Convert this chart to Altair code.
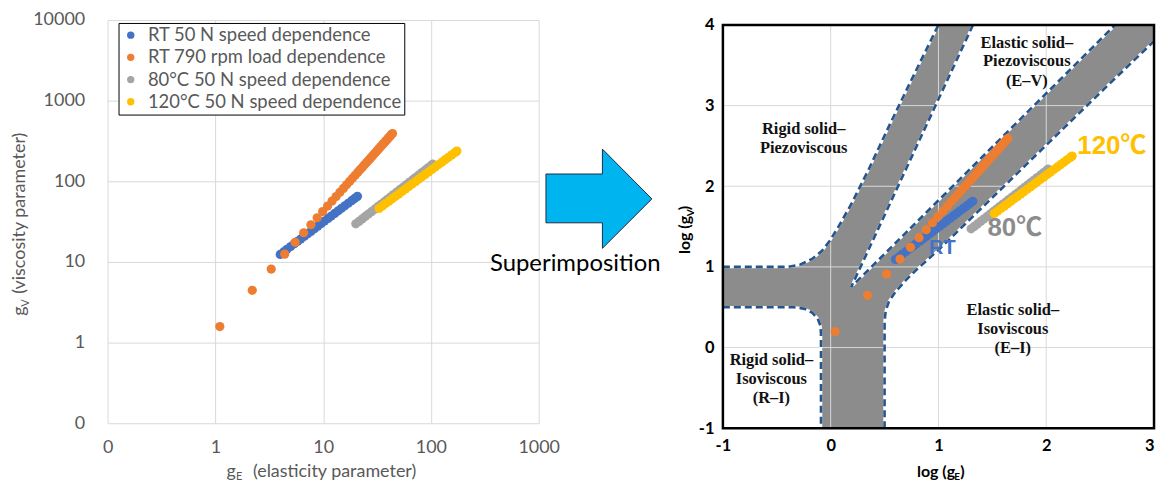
import altair as alt
import pandas as pd

# ---------------- data ----------------
SERIES = ["RT 50 N speed dependence", "RT 790 rpm load dependence",
          "80°C 50 N speed dependence", "120°C 50 N speed dependence"]
COLORS = ["#4472C4", "#ED7D31", "#A5A5A5", "#FFC000"]

rt50_gE = [4.0, 4.3, 4.6, 5.0, 5.4, 5.8, 6.2, 6.7, 7.2, 7.7, 8.3, 8.9, 9.6, 10.3,
           11.1, 11.9, 12.8, 13.8, 14.8, 15.9, 17.1, 18.4, 19.6, 20.8]
rt50_gV = [12.4, 13.3, 14.3, 15.5, 16.8, 18.0, 19.3, 20.8, 22.4, 23.9, 25.8, 27.7, 29.9, 32.1,
           34.6, 37.1, 39.9, 43.0, 46.2, 49.6, 53.4, 57.4, 61.2, 65.0]

rt790_gE = [1.1, 2.2, 3.3, 4.4, 5.5, 6.6, 7.7, 8.8, 9.9, 11.0, 12.1, 13.2, 14.3, 15.4,
            16.5, 17.6, 18.7, 19.8, 20.9, 22.0, 23.1, 24.2, 25.3, 26.4, 27.5, 28.6, 29.7,
            30.8, 31.9, 33.0, 34.1, 35.2, 36.3, 37.4, 38.5, 39.6, 40.7, 41.8, 42.9, 44.0]
rt790_gV = [1.58, 4.45, 8.16, 12.5, 17.5, 23.0, 28.9, 35.3, 42.1, 49.3, 56.8, 64.7, 72.9, 81.5,
            90.3, 99.4, 108.9, 118.6, 128.6, 138.8, 149.3, 160.0, 171.0, 182.3, 193.7, 205.4,
            217.3, 229.4, 241.8, 254.4, 267.2, 280.2, 293.4, 306.7, 320.3, 334.0, 348.0,
            362.1, 376.5, 391.1]

c80_gE = [20.1, 21.5, 23.0, 24.6, 26.3, 28.1, 30.1, 32.2, 34.4, 36.8, 39.4, 42.1, 45.0,
          48.2, 51.5, 55.1, 58.9, 63.0, 67.4, 72.1, 77.1, 82.5, 88.2, 94.3, 100.9, 104.0]
c80_gV = [29.7, 31.8, 34.1, 36.6, 39.2, 42.0, 45.1, 48.4, 51.8, 55.5, 59.6, 63.8, 68.4,
          73.4, 78.6, 84.3, 90.4, 96.9, 103.9, 111.4, 119.4, 128.1, 137.3, 147.1, 157.8, 162.8]

c120_gE = [33.0, 35.4, 38.0, 40.8, 43.8, 47.0, 50.4, 54.1, 58.1, 62.3, 66.9, 71.8, 77.0,
           82.7, 88.7, 95.2, 102.2, 109.7, 117.7, 126.3, 135.6, 145.5, 156.1, 167.6, 174.0]
c120_gV = [46.0, 49.3, 52.9, 56.7, 60.8, 65.2, 69.8, 74.9, 80.3, 86.0, 92.3, 98.9, 106.0,
           113.7, 121.8, 130.6, 140.1, 150.2, 161.0, 172.6, 185.1, 198.4, 212.6, 228.0, 236.6]

LEFT_X_TICKS = [0.1, 1, 10, 100, 1000]
LEFT_Y_TICKS = [0.1, 1, 10, 100, 1000, 10000]
RIGHT_X_TICKS = [-1, 0, 1, 2, 3]
RIGHT_Y_TICKS = [-1, 0, 1, 2, 3, 4]
RIGHT_GRID_X = [0, 1, 2]
RIGHT_GRID_Y = [0, 1, 2, 3]

# regime-map boundaries in (log gE, log gV)
upper_left_x = [-1.0, -0.4, -0.28, -0.17, -0.08, -0.01, 0.06, 0.2, 0.36, 0.55, 0.75, 1.0]
upper_left_y = [1.0, 1.0, 1.03, 1.1, 1.2, 1.32, 1.47, 1.8, 2.23, 2.77, 3.32, 4.0]
wedge_x = [1.32, 0.19, 2.64]
wedge_y = [4.0, 0.75, 4.0]
lower_left_x = [-1.0, -0.34, -0.24, -0.17, -0.12, -0.095, -0.09, -0.09]
lower_left_y = [0.5, 0.5, 0.48, 0.43, 0.36, 0.27, 0.17, -1.0]
lower_right_x = [0.5, 0.5, 0.51, 0.54, 0.6, 0.7, 0.8, 1.0, 1.5, 2.0, 2.5, 3.0]
lower_right_y = [-1.0, 0.32, 0.45, 0.57, 0.69, 0.84, 0.97, 1.21, 1.86, 2.51, 3.16, 3.8]
corner_x = [3.0]
corner_y = [4.0]

REGION_TEXT = ["Rigid solid–", "Piezoviscous", "Elastic solid–", "Piezoviscous", "(E–V)",
               "Elastic solid–", "Isoviscous", "(E–I)", "Rigid solid–", "Isoviscous", "(R–I)"]
REGION_X = [-0.25, -0.25, 1.82, 1.82, 1.82, 1.69, 1.69, 1.69, -0.55, -0.55, -0.55]
REGION_Y = [2.71, 2.48, 3.77, 3.55, 3.30, 0.46, 0.23, -0.01, -0.16, -0.395, -0.63]

CURVE_TEXT = ["RT", "80℃", "120℃"]
CURVE_X = [1.036, 1.708, 2.608]
CURVE_Y = [1.235, 1.477, 2.494]
CURVE_COL = ["#4472C4", "#8C8C8C", "#FFC000"]
CURVE_SIZE = [20, 26, 26]

# arrow shape in the middle panel (panel units, y downward)
arrow_x = [7.3, 64, 64, 113.7, 64, 64, 7.3, 7.3]
arrow_y = [154.7, 154.7, 129.7, 179.7, 229.3, 203.7, 203.7, 154.7]

# ---------------- tables ----------------
rows = []
for k, (name, xs, ys) in enumerate(zip(SERIES,
                                       [rt50_gE, rt790_gE, c80_gE, c120_gE],
                                       [rt50_gV, rt790_gV, c80_gV, c120_gV])):
    for i, (a, b) in enumerate(zip(xs, ys)):
        rows.append({"series": name, "gE": a, "gV": b, "ord": k * 1000 + i})
df = pd.DataFrame(rows)
ONE = pd.DataFrame({"k": [0]})

GRID = "#d9d9d9"
LBL = "#595959"
LW, LH = 433, 405
RW, RH = 433, 405
MW = 185
DOT = 86

# ---------------- left chart ----------------
color = alt.Color("series:N", scale=alt.Scale(domain=SERIES, range=COLORS),
                  legend=alt.Legend(title=None, orient="none", legendX=11, legendY=3,
                                    direction="vertical", fillColor="white", strokeColor="black",
                                    padding=3, rowPadding=3.3, labelFont="Lato", labelFontSize=18.5,
                                    labelColor=LBL, symbolType="circle", symbolSize=55,
                                    symbolStrokeWidth=0, labelOffset=8, labelLimit=500))

left_pts = alt.Chart(df).mark_circle(size=DOT, opacity=1).encode(
    x=alt.X("gE:Q", scale=alt.Scale(type="log", domain=[0.1, 1000], nice=False),
            axis=alt.Axis(values=LEFT_X_TICKS, labelExpr="datum.value < 1 ? '0' : format(datum.value, 'd')",
                          title=None, grid=True, gridColor=GRID, domain=False, ticks=False,
                          labelFlush=False, labelOverlap=False,
                          labelPadding=15, labelFont="Lato", labelFontSize=18, labelColor=LBL)),
    y=alt.Y("gV:Q", scale=alt.Scale(type="log", domain=[0.1, 10000], nice=False),
            axis=alt.Axis(values=LEFT_Y_TICKS, labelExpr="datum.value < 1 ? '0' : format(datum.value, 'd')",
                          title=None, grid=True, gridColor=GRID, domain=False, ticks=False,
                          labelFlush=False, labelOverlap=False,
                          labelPadding=23, labelFont="Lato", labelFontSize=18, labelColor=LBL)),
    color=color,
    order=alt.Order("ord:Q"),
)


def txt(s, x, y, size, col, font="Lato", weight="normal", align="left", angle=0, dy=0):
    return alt.Chart(ONE).mark_text(text=s, font=font, fontSize=size, fontWeight=weight, color=col,
                                    align=align, baseline="alphabetic", angle=angle, dy=dy).encode(
        x=alt.value(x), y=alt.value(y))


# invisible anchor fixing the top-left corner of the whole figure
anchor = alt.Chart(ONE).mark_point(opacity=0, size=1).encode(x=alt.value(-99), y=alt.value(-10))

left_titles = [
    txt("g", 119.5, 459, 18, LBL),
    txt("E", 129, 459, 11, LBL, dy=3),
    txt("(elasticity parameter)", 146, 459, 18, LBL),
    txt("g", -82.5, 297, 18, LBL, angle=270),
    txt("V", -82.5, 288, 11, LBL, angle=270, dy=4),
    txt("(viscosity parameter)", -82.5, 275, 18, LBL, angle=270),
]
left = alt.layer(left_pts, anchor, *left_titles).properties(width=LW, height=LH)

# ---------------- middle panel ----------------
arrow_df = pd.DataFrame({"ax": arrow_x, "ay": arrow_y, "o": list(range(len(arrow_x)))})
arrow = alt.Chart(arrow_df).mark_line(fill="#00B4F0", stroke="#1F2A44", strokeWidth=1,
                                      strokeJoin="miter").encode(
    x=alt.X("ax:Q", scale=alt.Scale(domain=[0, MW], nice=False, zero=False), axis=None),
    y=alt.Y("ay:Q", scale=alt.Scale(domain=[0, 405], reverse=True, nice=False, zero=False), axis=None),
    order=alt.Order("o:Q"),
)
sup = alt.Chart(ONE).mark_text(text="Superimposition", font="Lato", fontSize=24, color="black",
                               align="center", baseline="middle").encode(
    x=alt.value(36.7), y=alt.value(245.3))
middle = alt.layer(arrow, sup).properties(width=MW, height=405)

# ---------------- right chart ----------------
XS = alt.Scale(domain=[-1, 3], nice=False, zero=False)
YS = alt.Scale(domain=[-1, 4], nice=False, zero=False)
AX = alt.Axis(values=RIGHT_X_TICKS, labelExpr="datum.value + ''", title=None, grid=False,
              domain=False, ticks=False, labelPadding=9, labelFont="Lato", labelFontSize=16.5,
              labelFlush=False, labelOverlap=False,
              labelAlign={"condition": {"test": "datum.value == 3", "value": "right"}, "value": "center"},
              labelFontWeight="bold", labelColor="black")
AY = alt.Axis(values=RIGHT_Y_TICKS, labelExpr="datum.value + ''", title=None, grid=False,
              domain=False, ticks=False, labelPadding=9, labelFont="Lato", labelFontSize=16.5,
              labelFlush=False, labelOverlap=False,
              labelFontWeight="bold", labelColor="black")


def X(f="x"):
    return alt.X(f"{f}:Q", scale=XS, axis=AX)


def Y(f="y"):
    return alt.Y(f"{f}:Q", scale=YS, axis=AY)


poly_x = upper_left_x + wedge_x + corner_x + lower_right_x[::-1] + lower_left_x[::-1] + [upper_left_x[0]]
poly_y = upper_left_y + wedge_y + corner_y + lower_right_y[::-1] + lower_left_y[::-1] + [upper_left_y[0]]
poly_df = pd.DataFrame({"x": poly_x, "y": poly_y, "o": list(range(len(poly_x)))})
gray = alt.Chart(poly_df).mark_line(fill="#8c8c8c", stroke="#8c8c8c", strokeWidth=0.5).encode(
    x=X(), y=Y(), order=alt.Order("o:Q"))

gx = alt.Chart(pd.DataFrame({"x": RIGHT_GRID_X})).mark_rule(color=GRID, strokeWidth=1).encode(x=X())
gy = alt.Chart(pd.DataFrame({"y": RIGHT_GRID_Y})).mark_rule(color=GRID, strokeWidth=1).encode(y=Y())

brows = []
for j, (bx, by) in enumerate([(upper_left_x, upper_left_y), (wedge_x, wedge_y),
                               (lower_left_x, lower_left_y), (lower_right_x, lower_right_y)]):
    for i, (a, b) in enumerate(zip(bx, by)):
        brows.append({"id": j, "x": a, "y": b, "o": i})
bdf = pd.DataFrame(brows)
under = alt.Chart(bdf).mark_line(color="white", strokeWidth=2.6).encode(
    x=X(), y=Y(), detail="id:N", order=alt.Order("o:Q"))
dashed = alt.Chart(bdf).mark_line(color="#25558C", strokeWidth=2.6, strokeDash=[7, 4]).encode(
    x=X(), y=Y(), detail="id:N", order=alt.Order("o:Q"))

reg_df = pd.DataFrame({"t": REGION_TEXT, "x": REGION_X, "y": REGION_Y})
regions = alt.Chart(reg_df).mark_text(font="Liberation Serif", fontWeight="bold", fontSize=16.5,
                                      color="#111111", baseline="middle", align="center").encode(
    x=X(), y=Y(), text="t:N")

right_pts = alt.Chart(df).transform_calculate(
    x="log(datum.gE) / LN10", y="log(datum.gV) / LN10"
).mark_circle(size=DOT, opacity=1).encode(
    x=X(), y=Y(),
    color=alt.Color("series:N", scale=alt.Scale(domain=SERIES, range=COLORS), legend=None),
    order=alt.Order("ord:Q"),
)

cur_df = pd.DataFrame({"t": CURVE_TEXT, "x": CURVE_X, "y": CURVE_Y, "c": CURVE_COL, "s": CURVE_SIZE})
curve_lbl = alt.Chart(cur_df).mark_text(font="Liberation Sans, Noto Sans CJK JP", fontWeight="bold",
                                        baseline="middle", align="center").encode(
    x=X(), y=Y(), text="t:N", color=alt.Color("c:N", scale=None), size=alt.Size("s:Q", scale=None))

frame = alt.Chart(pd.DataFrame({"x": [-1], "x2": [3], "y": [-1], "y2": [4]})).mark_rect(
    fillOpacity=0, stroke="black", strokeWidth=2.5).encode(
    x=X(), x2="x2:Q", y=Y(), y2="y2:Q")

right_titles = [
    txt("log (g", 195, 454, 16, "black", weight="bold"),
    txt("E", 232.3, 454, 10, "black", weight="bold", dy=3),
    txt(")", 238.3, 454, 16, "black", weight="bold"),
    txt("log (g", -33, 230, 16, "black", weight="bold", angle=270),
    txt("V", -33, 192, 10, "black", weight="bold", angle=270, dy=4),
    txt(")", -33, 186, 16, "black", weight="bold", angle=270),
]

right = alt.layer(gray, gx, gy, under, dashed, regions, right_pts, frame, curve_lbl,
                  *right_titles).properties(width=RW, height=RH)

spacer = alt.Chart(ONE).mark_point(opacity=0).encode(x=alt.value(0), y=alt.value(0)).properties(
    width=RW, height=1)
right_block = alt.vconcat(spacer, right, spacing=4, bounds="flush")

chart = alt.hconcat(left, middle, right_block, spacing=0, bounds="flush").properties(
    padding={"left": 0, "top": 0, "right": 0, "bottom": 0}, background="white"
).configure_view(stroke=None)

chart.save("out.html", embed_options={"renderer": "svg", "actions": False})
